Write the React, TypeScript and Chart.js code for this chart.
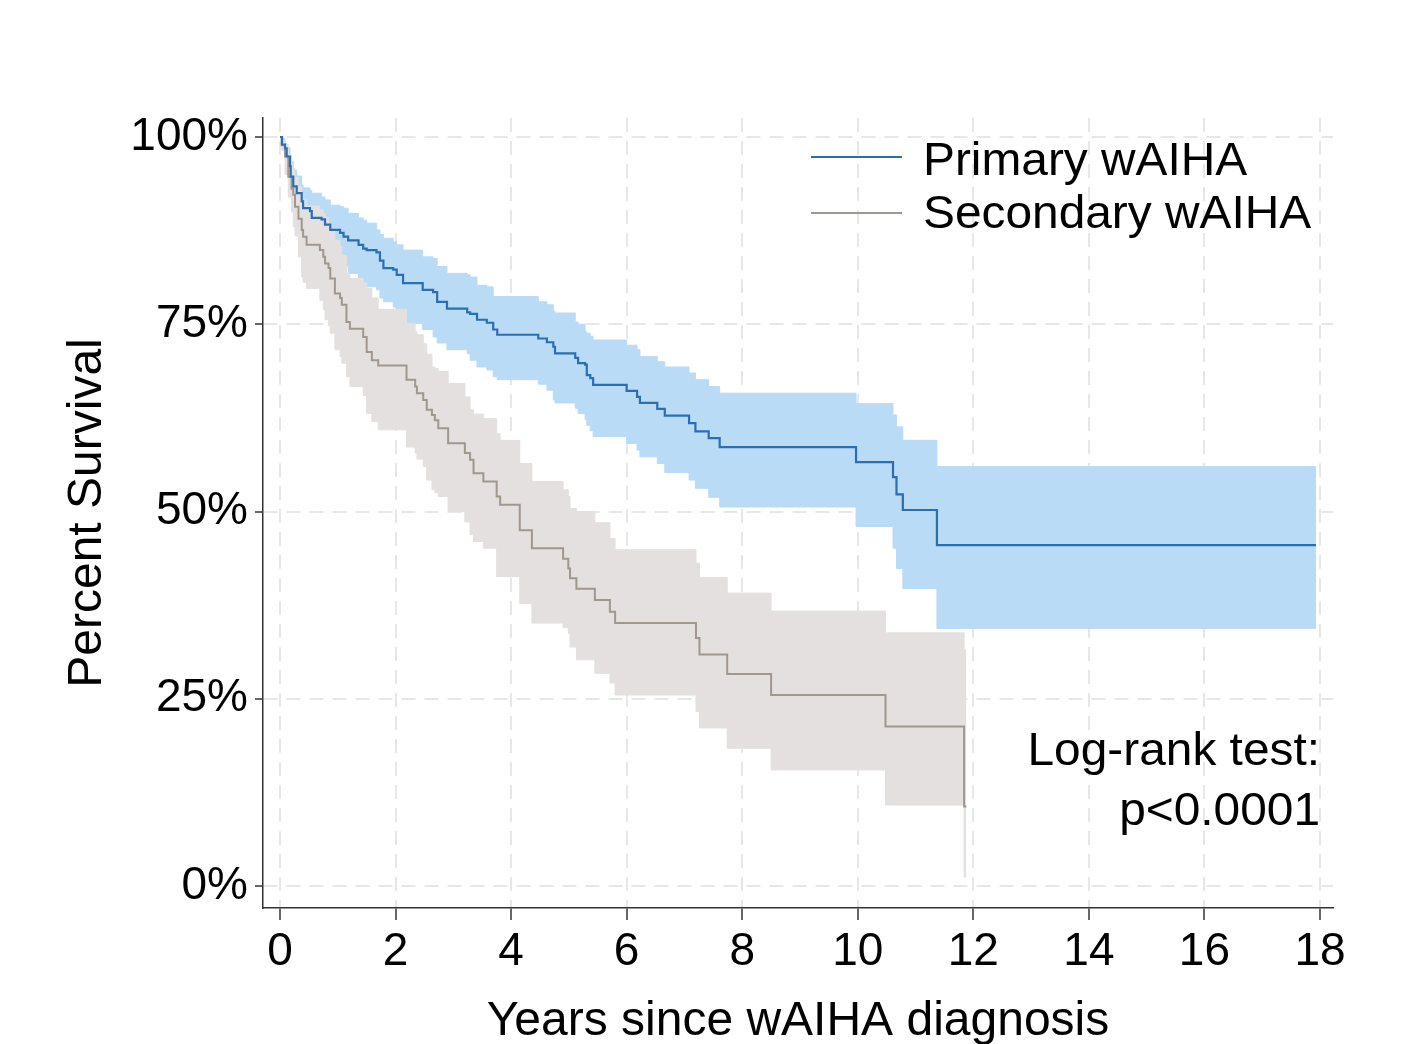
import React, { useEffect, useRef } from 'react';
import { Chart, registerables } from 'chart.js';

Chart.register(...registerables);

// ---------- data ----------
const SERIES_NAMES = ['Primary wAIHA', 'Secondary wAIHA'];
const ANNOTATION_LINES = ['Log-rank test:', 'p<0.0001'];
const X_TITLE = 'Years since wAIHA diagnosis';
const Y_TITLE = 'Percent Survival';
const X_TICKS = [0, 2, 4, 6, 8, 10, 12, 14, 16, 18];
const Y_TICKS = [0, 25, 50, 75, 100];

// Primary wAIHA: event times (years), survival %, lower / upper CI %
const PRI_T = [0, 0.035, 0.087, 0.116, 0.173, 0.185, 0.23, 0.29, 0.376, 0.40,
  0.52, 0.55, 0.72, 0.78, 0.87, 1.04, 1.10, 1.18, 1.36, 1.44,
  1.50, 1.67, 1.73, 1.79, 1.96, 2.02, 2.13, 2.47, 2.65, 2.72,
  2.89, 3.24, 3.29, 3.41, 3.58, 3.69, 3.76, 4.47, 4.62, 4.73,
  4.76, 5.11, 5.16, 5.28, 5.31, 5.37, 5.42, 6.0, 6.18, 6.23,
  6.53, 6.66, 7.08, 7.19, 7.42, 7.61, 9.97, 10.61, 10.67, 10.78,
  11.37, 17.93];
const PRI_S = [100, 99.0, 98.5, 97.4, 96.1, 94.7, 93.4, 92.5, 91.4, 90.5,
  90.1, 89.2, 89.0, 88.3, 87.6, 87.2, 86.7, 86.2, 85.6, 85.1,
  84.9, 84.6, 83.5, 82.5, 82.3, 81.6, 80.5, 79.6, 79.3, 78.0,
  77.1, 76.6, 76.4, 75.6, 75.2, 74.3, 73.6, 73.1, 72.6, 72.0,
  71.1, 70.5, 69.8, 69.6, 68.2, 67.8, 66.9, 66.1, 65.3, 64.5,
  63.7, 62.8, 61.8, 60.7, 59.8, 58.6, 56.6, 54.6, 52.3, 50.2,
  45.5, 45.5];
const PRI_HI = [100, 99.8, 99.2, 98.6, 97.4, 96.7, 95.6, 94.8, 93.6, 93.2,
  92.9, 92.5, 92.0, 91.6, 90.9, 90.7, 90.5, 89.8, 89.2, 88.9,
  88.5, 87.6, 87.0, 86.5, 86.0, 85.6, 84.9, 84.0, 83.8, 82.7,
  81.8, 81.6, 81.3, 80.2, 80.0, 78.7, 78.7, 78.0, 77.6, 76.7,
  76.5, 75.3, 75.0, 74.0, 73.8, 73.4, 72.9, 72.2, 71.6, 70.7,
  70.0, 69.3, 68.5, 67.6, 66.7, 65.8, 64.4, 62.9, 61.3, 59.5,
  56.0, 56.0];
const PRI_LO = [100, 98.2, 97.2, 95.8, 94.2, 92.5, 90.9, 89.8, 88.6, 87.4,
  87.0, 85.9, 85.6, 84.8, 84.0, 83.5, 82.8, 81.8, 81.2, 80.6,
  80.0, 79.6, 78.5, 78.0, 77.3, 76.7, 75.1, 74.3, 73.3, 72.5,
  71.6, 71.1, 70.2, 69.3, 68.9, 68.0, 67.6, 67.0, 66.2, 64.9,
  64.5, 63.8, 63.1, 62.3, 61.5, 60.8, 60.0, 59.1, 58.2, 57.3,
  56.4, 55.2, 54.2, 53.1, 51.9, 50.6, 48.0, 45.1, 42.4, 39.7,
  34.4, 34.4];

// Secondary wAIHA
const SEC_T = [0, 0.03, 0.087, 0.144, 0.20, 0.23, 0.26, 0.32, 0.376, 0.40,
  0.46, 0.69, 0.75, 0.78, 0.84, 0.87, 0.95, 1.04, 1.07, 1.15,
  1.21, 1.44, 1.50, 1.59, 1.70, 2.19, 2.34, 2.37, 2.48, 2.54,
  2.63, 2.68, 2.74, 2.91, 3.20, 3.29, 3.35, 3.52, 3.75, 3.81,
  4.15, 4.36, 4.90, 4.99, 5.02, 5.13, 5.45, 5.71, 5.80, 7.20,
  7.26, 7.74, 8.50, 10.48, 11.84, 11.88];
const SEC_S = [100, 98.9, 97.4, 94.7, 93.1, 92.3, 90.7, 89.1, 87.6, 86.7,
  85.6, 84.9, 84.0, 83.1, 82.5, 81.1, 79.1, 78.5, 77.6, 75.3,
  74.4, 73.3, 71.3, 70.2, 69.5, 67.6, 66.7, 65.8, 64.9, 63.6,
  62.9, 62.2, 61.1, 59.1, 57.8, 56.9, 55.1, 54.0, 52.0, 50.9,
  47.5, 45.1, 43.7, 42.4, 41.1, 39.7, 38.2, 36.6, 35.1, 33.1,
  30.9, 28.3, 25.5, 21.3, 10.6, 10.6];
const SEC_HI = [100, 99.6, 99.0, 97.6, 96.4, 95.8, 94.6, 93.4, 92.3, 91.6,
  90.8, 90.3, 89.8, 89.3, 88.4, 87.6, 86.2, 85.3, 84.2, 81.8,
  81.1, 80.5, 79.8, 78.5, 77.0, 75.1, 74.0, 73.6, 72.4, 71.0,
  69.3, 69.1, 68.7, 67.1, 65.3, 63.6, 63.0, 62.4, 60.4, 59.5,
  56.4, 54.0, 52.9, 52.0, 50.4, 50.0, 48.5, 46.4, 44.9, 43.1,
  41.2, 39.1, 36.7, 33.8, 31.5, 31.5];
const SEC_LO = [100, 98.3, 95.0, 92.0, 90.0, 88.0, 86.8, 84.0, 81.3, 80.6,
  79.8, 78.2, 77.0, 75.6, 74.8, 73.8, 71.6, 70.7, 69.8, 68.0,
  66.7, 65.5, 63.1, 62.0, 60.9, 58.6, 57.8, 57.0, 56.0, 54.2,
  52.9, 52.5, 52.0, 50.0, 48.6, 46.9, 46.0, 45.1, 41.3, 41.3,
  37.7, 35.1, 34.5, 33.7, 31.9, 30.2, 28.4, 27.1, 25.5, 23.3,
  21.1, 18.4, 15.5, 10.8, 1.2, 1.2];

// ---------- styles ----------
const FONT = "'Liberation Sans', Arial, Helvetica, sans-serif";
const BLUE_LINE = '#2a6fb3';
const BLUE_BAND = '#b9dbf5';
const GRAY_LINE = '#a0978f';
const GRAY_BAND = '#e3e0df';
const GRID = '#e7e7e7';
const AXIS = '#333333';
const TEXT_STRETCH = 1.04;

const pts = (t: number[], v: number[]) => t.map((x, i) => ({ x, y: v[i] }));

const drawStretched = (ctx: CanvasRenderingContext2D, s: string, x: number, y: number, align: CanvasTextAlign) => {
  ctx.save();
  ctx.translate(x, y);
  ctx.scale(TEXT_STRETCH, 1);
  ctx.textAlign = align;
  ctx.fillText(s, 0, 0);
  ctx.restore();
};

const overlayPlugin = {
  id: 'kmOverlay',
  afterDraw(chart: any) {
    const { ctx, chartArea } = chart;
    const L = chartArea.left;
    const T = chartArea.top;
    const R = chartArea.right;
    const B = chartArea.bottom;
    ctx.save();
    // legend
    const colors = [BLUE_LINE, GRAY_LINE];
    const lineY = [T + 39, T + 95];
    const textY = [T + 57, T + 110];
    ctx.font = `46px ${FONT}`;
    ctx.textBaseline = 'alphabetic';
    ctx.fillStyle = '#000';
    SERIES_NAMES.forEach((name, i) => {
      ctx.strokeStyle = colors[i];
      ctx.lineWidth = 2;
      ctx.beginPath();
      ctx.moveTo(L + 548, lineY[i]);
      ctx.lineTo(L + 639, lineY[i]);
      ctx.stroke();
      drawStretched(ctx, name, L + 660, textY[i], 'left');
    });
    // annotation
    const annY = [B - 143, B - 83];
    ANNOTATION_LINES.forEach((s, i) => {
      drawStretched(ctx, s, R - 13, annY[i], 'right');
    });
    ctx.restore();
  },
};

export default function App() {
  const ref = useRef<HTMLCanvasElement | null>(null);

  useEffect(() => {
    if (!ref.current) return;
    const base = { pointRadius: 0, pointHoverRadius: 0, stepped: 'before' as const, tension: 0 };
    const chart = new Chart(ref.current, {
      type: 'line',
      data: {
        datasets: [
          { ...base, label: 'Primary CI upper', data: pts(PRI_T, PRI_HI), borderColor: BLUE_BAND, borderWidth: 1, fill: false, order: 6 },
          { ...base, label: 'Primary CI lower', data: pts(PRI_T, PRI_LO), borderColor: BLUE_BAND, backgroundColor: BLUE_BAND, borderWidth: 1, fill: '-1', order: 5 },
          { ...base, label: 'Secondary CI upper', data: pts(SEC_T, SEC_HI), borderColor: GRAY_BAND, borderWidth: 1, fill: false, order: 4 },
          { ...base, label: 'Secondary CI lower', data: pts(SEC_T, SEC_LO), borderColor: GRAY_BAND, backgroundColor: GRAY_BAND, borderWidth: 1, fill: '-1', order: 3 },
          { ...base, label: SERIES_NAMES[1], data: pts(SEC_T, SEC_S), borderColor: GRAY_LINE, borderWidth: 2, fill: false, order: 2 },
          { ...base, label: SERIES_NAMES[0], data: pts(PRI_T, PRI_S), borderColor: BLUE_LINE, borderWidth: 2.2, fill: false, order: 1 },
        ],
      },
      options: {
        animation: false,
        responsive: false,
        maintainAspectRatio: false,
        devicePixelRatio: 1,
        events: [],
        layout: { padding: { left: 0, right: 75, top: 118, bottom: 0 } },
        plugins: {
          legend: { display: false },
          tooltip: { enabled: false },
          title: { display: false },
        },
        scales: {
          x: {
            type: 'linear',
            min: -0.294,
            max: 18.225,
            afterBuildTicks: (a: any) => { a.ticks = X_TICKS.map((value) => ({ value })); },
            afterFit: (s: any) => { s.height = 136; },
            grid: { color: GRID, lineWidth: 2, tickLength: 12, tickColor: AXIS, tickWidth: 1.5 },
            border: { display: true, color: AXIS, width: 1.5, dash: [14, 9] },
            ticks: {
              autoSkip: false, maxRotation: 0, minRotation: 0, padding: 5, color: '#000',
              font: { family: FONT, size: 46 },
              callback: (v: any) => String(v),
            },
            title: {
              display: true, text: X_TITLE, color: '#000',
              font: { family: FONT, size: 48, lineHeight: 0.92 },
              padding: { top: 0, bottom: 0 },
            },
          },
          y: {
            type: 'linear',
            min: -2.94,
            max: 102.54,
            afterBuildTicks: (a: any) => { a.ticks = Y_TICKS.map((value) => ({ value })); },
            afterFit: (s: any) => { s.width = 263; },
            grid: { color: GRID, lineWidth: 2, tickLength: 8, tickColor: AXIS, tickWidth: 1.5 },
            border: { display: true, color: AXIS, width: 1.5, dash: [14, 9] },
            ticks: {
              autoSkip: false, padding: 7, color: '#000',
              font: { family: FONT, size: 46 },
              callback: (v: any) => `${v}%`,
            },
            title: {
              display: true, text: Y_TITLE, color: '#000',
              font: { family: FONT, size: 48, lineHeight: 1.2 },
              padding: { top: 59, bottom: 0 },
            },
          },
        },
      },
      plugins: [overlayPlugin],
    } as any);
    return () => chart.destroy();
  }, []);

  return (
    <div style={{ position: 'fixed', left: 0, top: 0, width: 1408, height: 1044, background: '#fff' }}>
      <canvas ref={ref} width={1408} height={1044} style={{ display: 'block' }} />
    </div>
  );
}
